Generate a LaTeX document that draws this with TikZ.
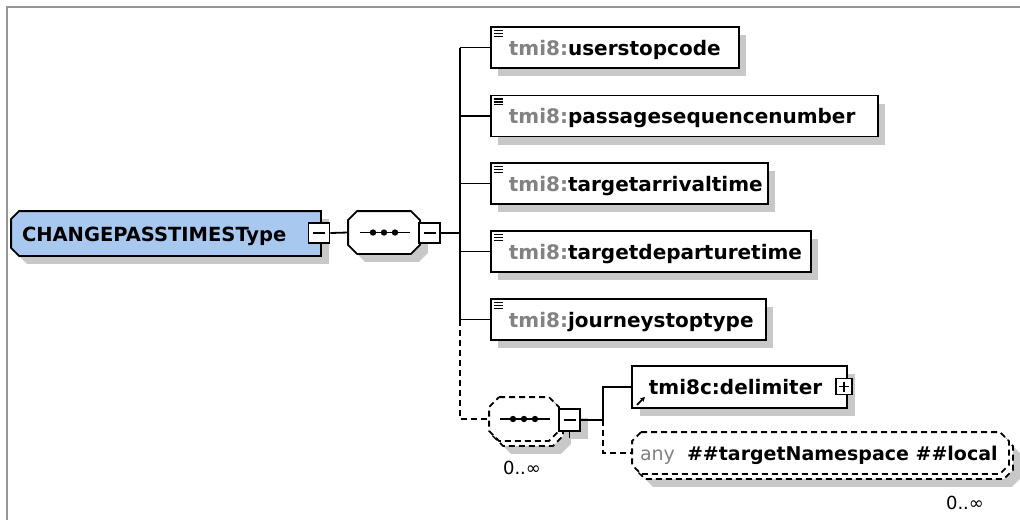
\documentclass[tikz,border=0pt]{standalone}
\usepackage{fontspec}
\setmainfont{DejaVu Sans}
\usetikzlibrary{arrows.meta}
\definecolor{typeblue}{RGB}{168,200,240}
\definecolor{shadowgray}{RGB}{200,200,200}
\definecolor{prefixgray}{RGB}{130,130,130}
\definecolor{framegray}{RGB}{150,150,150}
\newcommand\tmipre{\textcolor{prefixgray}{tmi8:}}
% octagon outline around node #1, chamfer #2, offset (#3,#4)
\newcommand\octo[4]{([shift={(#3+#2,#4)}]#1.north west) -- ([shift={(#3-#2,#4)}]#1.north east) -- ([shift={(#3,#4+#2)}]#1.north east) -- ([shift={(#3,#4-#2)}]#1.south east) -- ([shift={(#3-#2,#4)}]#1.south east) -- ([shift={(#3+#2,#4)}]#1.south west) -- ([shift={(#3,#4-#2)}]#1.south west) -- ([shift={(#3,#4+#2)}]#1.north west) -- cycle}
% left-chamfered outline
\newcommand\octL[4]{([shift={(#3+#2,#4)}]#1.north west) -- ([shift={(#3,#4)}]#1.north east) -- ([shift={(#3,#4)}]#1.south east) -- ([shift={(#3+#2,#4)}]#1.south west) -- ([shift={(#3,#4-#2)}]#1.south west) -- ([shift={(#3,#4+#2)}]#1.north west) -- cycle}
\begin{document}
\begin{tikzpicture}[x=1pt,y=-1pt,line width=1.8pt,
  box/.style={rectangle,inner sep=0pt},
  elembox/.style={draw,fill=white,rectangle,inner sep=0pt,minimum height=41pt,anchor=west},
  pmbox/.style={draw,fill=white,rectangle,inner sep=0pt,minimum width=21pt,minimum height=20pt,line width=1.6pt},
  dsh/.style={dash pattern=on 6pt off 4pt},
  nm/.style={anchor=base west,inner sep=0pt,font=\fontsize{20pt}{24pt}\selectfont\bfseries},
  occ/.style={inner sep=0pt,font=\fontsize{18pt}{22pt}\selectfont}]
\useasboundingbox (0,0) rectangle (1020,520);
% frame
\draw[framegray,line width=1.5pt] (7,520) -- (7,7) -- (1020,7);

% main type
\node[box,minimum width=308pt,minimum height=43pt] (main) at (166,233.5) {};
\fill[shadowgray] \octL{main}{8}{8}{8};
\draw[fill=typeblue] \octL{main}{8}{0}{0};
\node[anchor=base west,inner sep=0pt,font=\fontsize{19.5pt}{24pt}\selectfont\bfseries]
  (maintext) at ([shift={(10,7.5)}]main.west) {CHANGEPASSTIMESType};
\node[pmbox] (m1) at (319,233) {};
\draw[line width=1.6pt] (m1.center) +(-6,0) -- +(6,0);

% sequence 1
\node[box,minimum width=70pt,minimum height=41pt] (s1) at (384,232.5) {};
\fill[shadowgray] \octo{s1}{9}{8}{8};
\draw[fill=white] \octo{s1}{9}{0}{0};
\node[pmbox] (m2) at (429.5,233) {};
\draw[line width=1.6pt] (m2.center) +(-6,0) -- +(6,0);
\draw ([shift={(-24,0)}]s1.center) -- ([shift={(26,0)}]s1.center);
\foreach \dx in {-11,0,11} \fill ([shift={(\dx,0)}]s1.center) circle[radius=3.2pt];
\draw (m1.east) -- (s1.west);

% elements
\foreach \n/\y/\w in {e1/47.5/248,e2/116/387,e3/183.5/277,e4/251.5/320,e5/319.5/275}{
  \fill[shadowgray] (498,\y-12.5) rectangle (490+\w+8,\y+28.5);
}
\node[elembox,minimum width=248pt] (e1) at (490,47.5) {};
\node[elembox,minimum width=387pt] (e2) at (490,116) {};
\node[elembox,minimum width=277pt] (e3) at (490,183.5) {};
\node[elembox,minimum width=320pt] (e4) at (490,251.5) {};
\node[elembox,minimum width=275pt] (e5) at (490,319.5) {};
\node[nm] (t1) at ([shift={(18,7.5)}]e1.west) {\tmipre userstopcode};
\node[nm] (t2) at ([shift={(18,7.5)}]e2.west) {\tmipre passagesequencenumber};
\node[nm] (t3) at ([shift={(18,7.5)}]e3.west) {\tmipre targetarrivaltime};
\node[nm] (t4) at ([shift={(18,7.5)}]e4.west) {\tmipre targetdeparturetime};
\node[nm] (t5) at ([shift={(18,7.5)}]e5.west) {\tmipre journeystoptype};
\foreach \n in {e1,e2,e3,e4,e5}{
  \foreach \k in {0,1,2}
    \draw[line width=1.4pt] ([shift={(4,4.5+2.8*\k)}]\n.north west) -- ++(9,0);
}

% trunk
\coordinate (tr) at (460,233);
\draw (m2.east) -- (tr);
\draw (tr |- e1.west) -- (tr |- e5.west);
\foreach \n in {e1,e2,e3,e4,e5} \draw (tr |- \n.west) -- (\n.west);

% sequence 2 (0..inf)
\node[box,minimum width=68pt,minimum height=42pt] (s2) at (524,419) {};
\fill[shadowgray] \octo{s2}{10}{12}{13};
\fill[shadowgray] ([shift={(8,8)}]561,410) rectangle ([shift={(8,8)}]580,431);
\draw[dsh,fill=white] \octo{s2}{10}{4}{5};
\draw[dsh,fill=white] \octo{s2}{10}{0}{0};
\draw[dsh] (tr |- e5.west) -- (tr |- s2.west) -- (s2.west);
\node[pmbox,minimum height=22pt] (m3) at (569.5,420) {};
\draw[line width=1.6pt] (m3.center) +(-6,0) -- +(6,0);
\draw (m3.south) -- ++(0,6);
\draw ([shift={(-24,0)}]s2.center) -- ([shift={(26,0)}]s2.center);
\foreach \dx in {-11,0,11} \fill ([shift={(\dx,0)}]s2.center) circle[radius=3.2pt];
\node[occ] (o1) at (522,468) {0..∞};

% delimiter
\node[box,minimum width=213pt,minimum height=40pt,anchor=west] (d1) at (632,387) {};
\fill[shadowgray] ([shift={(8,8)}]d1.north west) rectangle ([shift={(8,8)}]d1.south east);
\draw[fill=white] (d1.north west) rectangle (d1.south east);
\node[nm] (dt) at ([shift={(16,7)}]d1.west) {tmi8c:delimiter};
\draw[line width=1.8pt,-{Stealth[length=5pt,width=5pt]}] ([shift={(5,-3)}]d1.south west) -- ++(8,-8);
\node[draw,fill=white,rectangle,inner sep=0pt,minimum width=16pt,minimum height=16pt,line width=1.4pt] (p1) at (844,386.5) {};
\draw[line width=1.4pt] (p1.center) +(-5,0) -- +(5,0) (p1.center) +(0,-5) -- +(0,5);

% any
\node[box,minimum width=375pt,minimum height=40pt] (a1) at (820.5,453) {};
\fill[shadowgray] \octo{a1}{9}{12}{13};
\draw[dsh,fill=white] \octo{a1}{9}{4}{5};
\draw[dsh,fill=white] \octo{a1}{9}{0}{0};
\node[anchor=base west,inner sep=0pt,font=\fontsize{19pt}{24pt}\selectfont,text=prefixgray] (at1) at ([shift={(7,7)}]a1.west) {any};
\node[anchor=base west,inner sep=0pt,font=\fontsize{19pt}{24pt}\selectfont\bfseries] (at2) at ([shift={(54,7)}]a1.west) {\#\#targetNamespace \#\#local};
\node[occ] (o2) at (965,503) {0..∞};

% branch 2
\coordinate (br2) at (603,420);
\draw (m3.east) -- (br2);
\draw (br2) -- (br2 |- d1.west) -- (d1.west);
\draw[dsh] (br2) -- (br2 |- a1.west) -- (a1.west);
\end{tikzpicture}
\end{document}
